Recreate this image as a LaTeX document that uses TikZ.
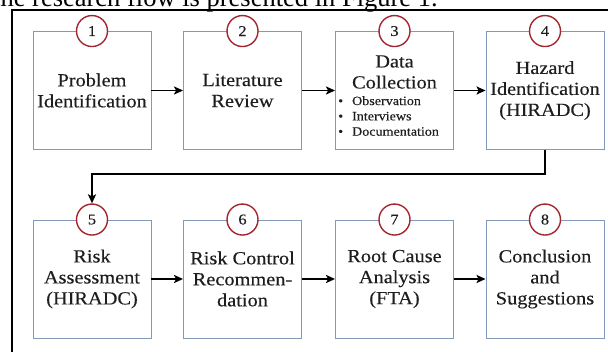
\documentclass[tikz,border=0pt]{standalone}
\usepackage{fontspec}
\setmainfont{Liberation Serif}[FakeStretch=1.1,FakeBold=0.25]
\newfontfamily\bodyfont{Liberation Serif}
\usetikzlibrary{arrows.meta}
\definecolor{boxblue}{HTML}{8499B8}
\definecolor{numred}{HTML}{A3262E}
\definecolor{txt}{HTML}{1E1E1E}
\tikzset{
  stepbox/.style={draw=boxblue, line width=0.9pt, fill=white, minimum width=118pt,
    minimum height=118pt, inner sep=0pt, align=center, text=txt,
    font=\fontsize{18.5}{21}\selectfont},
  numcirc/.style={circle, draw=numred, line width=1.4pt, fill=white, minimum size=31pt,
    inner sep=0pt, text=txt, font=\fontsize{15}{15}\selectfont},
  flow/.style={line width=1.8pt, -{Stealth[length=9pt,width=8pt,inset=2pt]}},
}
\begin{document}
\begin{tikzpicture}[x=1pt,y=-1pt]
\useasboundingbox (0,0) rectangle (608,352);
\clip (0,0) rectangle (608,352);
\fill[white] (0,0) rectangle (608,352);
% partially visible caption line above the frame
\node[anchor=base west, inner sep=0pt, font=\bodyfont\fontsize{26.5}{26.5}\selectfont] (cap) at (-7,6.5) {the research flow is presented in Figure 1.};
% outer frame
\draw[line width=2pt] (12,10) rectangle (640,380);
% row 1
\node[stepbox] (b1) at (92,90.5) {Problem\\Identification};
\node[stepbox] (b2) at (242.5,90.5) {Literature\\Review};
\node[stepbox] (b3) at (394.5,90.5) {};
\node[stepbox] (b4) at (545,90.5) {Hazard\\Identification\\(HIRADC)};
\node[align=center, text=txt, inner sep=0pt, font=\fontsize{18.5}{21}\selectfont] (t3) at (394.5,72) {Data\\Collection};
\node[anchor=west, align=left, text=txt, inner sep=0pt, font=\fontsize{12.8}{15.3}\selectfont] (l3) at (338,116) {\textbullet\hspace{9pt}Observation\\\textbullet\hspace{9pt}Interviews\\\textbullet\hspace{9pt}Documentation};
% row 2
\node[stepbox] (b5) at (92,279) {Risk\\Assessment\\(HIRADC)};
\node[stepbox] (b6) at (242.5,279) {Risk Control\\Recommen-\\dation};
\node[stepbox] (b7) at (394.5,279) {Root Cause\\Analysis\\(FTA)};
\node[stepbox] (b8) at (545,279) {Conclusion\\and\\Suggestions};
% number circles
\foreach \i in {1,...,8} {
  \node[numcirc] (c\i) at (b\i.north) {\i};
}
% connectors
\draw[flow] (b1) -- (b2);
\draw[flow] (b2) -- (b3);
\draw[flow] (b3) -- (b4);
\draw[flow] (b5) -- (b6);
\draw[flow] (b6) -- (b7);
\draw[flow] (b7) -- (b8);
\draw[flow] (b4.south) -- ++(0,24) -| (c5.north);
\end{tikzpicture}
\end{document}
